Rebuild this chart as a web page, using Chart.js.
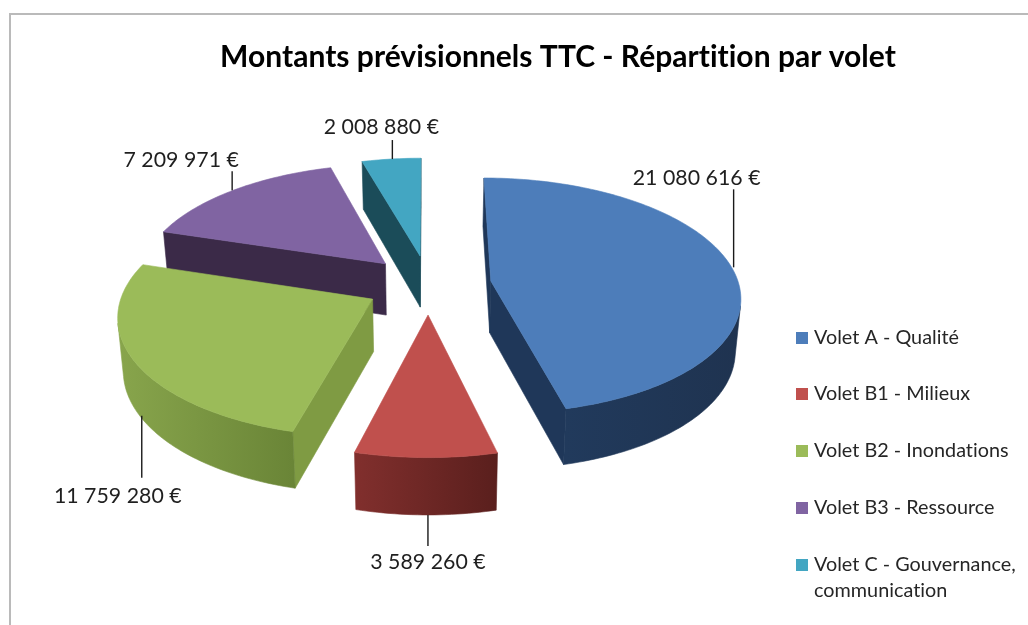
<!DOCTYPE html>
<html><head><meta charset="utf-8">
<style>html,body{margin:0;padding:0;background:#fff}canvas{display:block;filter:blur(0.4px)}#w{width:1028px;height:625px}</style>
<script src="https://cdn.jsdelivr.net/npm/chart.js@4/dist/chart.umd.min.js"></script>
</head><body><div id="w"><canvas id="c" width="1028" height="625"></canvas></div>
<script>
const titleText = 'Montants prévisionnels TTC - Répartition par volet';
const categories = ['Volet A - Qualité','Volet B1 - Milieux','Volet B2 - Inondations','Volet B3 - Ressource',['Volet C - Gouvernance,','communication']];
const values = [21080616, 3589260, 11759280, 7209971, 2008880];
const topColors = ['#4d7dba','#c0504d','#9bbb59','#8064a2','#43a6c2'];
const sideColors = ['#1f3759','#7a2e2c','#7f9b43','#3b2a48','#1b4c59'];
const rimLeft = ['#213a5c','#812f2d','#88a54c','#3b2a48','#1b4c59'];
const rimRight = ['#1f3350','#5a1f1d','#6a8537','#3b2a48','#1b4c59'];
const labelShift = [[-37,11,78],[0,16,31],[-24,18,62],[-51,11,19],[-11,13,19]]; // text dx, text gap, leader length
const leaderDx = [2,2,2,-1,1];
const legendYs = [338,394,451,508,565];
const drawOrder = [4,3,0,2,1];

const P = {sx:428.5, sy:284.5, k:0.47, p:0.0005, p2:0.0003, d:52, low:0.982};
function proj(X,Y,low){
  const w = 1 - P.p*Y; let x = X/w, y = P.k*Y/w;
  if(low){ x *= P.low; y += P.d/(1 - P.p2*Y); }
  return [P.sx + x, P.sy + y];
}
function poly(ctx,pts){ ctx.beginPath(); pts.forEach((q,i)=> i?ctx.lineTo(q[0],q[1]):ctx.moveTo(q[0],q[1])); ctx.closePath(); }
function fillPoly(ctx,pts,col){ poly(ctx,pts); ctx.fillStyle=col; ctx.fill(); ctx.strokeStyle=col; ctx.lineWidth=.6; ctx.stroke(); }
function area(a){ let s=0; a.forEach((q,i)=>{const r=a[(i+1)%a.length]; s+=q[0]*r[1]-r[0]*q[1];}); return s; }

const FONT = 'Lato, Carlito, Calibri, sans-serif';
const pie3d = {
  id:'pie3d',
  beforeDraw(chart){
    const c = chart.ctx; c.save();
    c.strokeStyle='#bababa'; c.lineWidth=2;
    c.beginPath(); c.moveTo(10,625); c.lineTo(10,14); c.lineTo(1028,14); c.stroke();
    c.restore();
    c.letterSpacing='0.02px';
  },
  beforeDatasetsDraw(chart){
    const ctx = chart.ctx, meta = chart.getDatasetMeta(0);
    const anchors = [];
    ctx.save();
    drawOrder.forEach(i=>{
      const el = meta.data[i], R = el.outerRadius, a0 = el.startAngle, a1 = el.endAngle;
      const mid = (a0+a1)/2, o = el.options.offset;
      const ox = Math.cos(mid)*o, oy = Math.sin(mid)*o;
      const pt = (a,low)=>proj(ox+R*Math.cos(a), oy+R*Math.sin(a), low);
      const n = Math.max(8, Math.round((a1-a0)/0.02));
      const angs = []; for(let j=0;j<=n;j++) angs.push(a0+(a1-a0)*j/n);
      const apexT = proj(ox,oy,false), apexB = proj(ox,oy,true);
      const rimT = angs.map(a=>pt(a,false)), rimB = angs.map(a=>pt(a,true));
      [[apexT,rimT[0],rimB[0],apexB],[rimT[n],apexT,apexB,rimB[n]]].forEach(q=>{
        if(area(q)<0) fillPoly(ctx,q,sideColors[i]);
      });
      const vis=[]; for(let j=0;j<n;j++){ if(area([rimT[j],rimT[j+1],rimB[j+1],rimB[j]])<0) vis.push(j); }
      if(vis.length){
        const s=vis[0], e=vis[vis.length-1]+1;
        const up=rimT.slice(s,e+1), dn=rimB.slice(s,e+1).reverse();
        const xs=up.map(q=>q[0]);
        const g=ctx.createLinearGradient(Math.min(...xs),0,Math.max(...xs),0);
        g.addColorStop(0,rimLeft[i]); g.addColorStop(1,rimRight[i]);
        fillPoly(ctx,up.concat(dn),g);
      }
      fillPoly(ctx,[apexT].concat(rimT),topColors[i]);
      const front = Math.sin(mid)>0;
      anchors[i] = pt(mid,front);
      anchors[i].dirDown = i===1||i===2;
    });
    ctx.font = '21.3px '+FONT; ctx.textAlign='center'; ctx.textBaseline='middle';
    values.forEach((v,i)=>{
      const a=anchors[i], s=labelShift[i], dir = a.dirDown?1:-1, x=a[0]+leaderDx[i];
      ctx.strokeStyle='#1a1a1a'; ctx.lineWidth=1.4;
      const yEnd=a[1]+dir*s[2];
      ctx.beginPath(); ctx.moveTo(x,a[1]); ctx.lineTo(x,yEnd); ctx.stroke();
      ctx.fillStyle='#1f1f1f';
      ctx.fillText(String(v).replace(/\B(?=(\d{3})+$)/g,' ')+' €', x+s[0], yEnd+dir*s[1]);
    });
    ctx.textAlign='left'; ctx.font='19.8px '+FONT;
    categories.forEach((c,i)=>{
      ctx.fillStyle=topColors[i]; ctx.fillRect(796,legendYs[i]-6,12,12);
      ctx.fillStyle='#262626';
      [].concat(c).forEach((t,j)=>ctx.fillText(t,814,legendYs[i]+j*26));
    });
    ctx.restore();
    return false;
  }
};
new Chart(document.getElementById('c'),{
  type:'pie',
  data:{labels:categories.map(c=>[].concat(c).join(' ')),datasets:[{data:values,backgroundColor:topColors,offset:63,borderWidth:0}]},
  plugins:[pie3d],
  options:{
    responsive:false,animation:false,radius:248,
    layout:{padding:{left:88}},
    plugins:{legend:{display:false},tooltip:{enabled:false},
      title:{display:true,text:titleText,color:'#000',font:{family:FONT,size:30,weight:'bold'},padding:{top:39,bottom:10}}}
  }
});
</script></body></html>
